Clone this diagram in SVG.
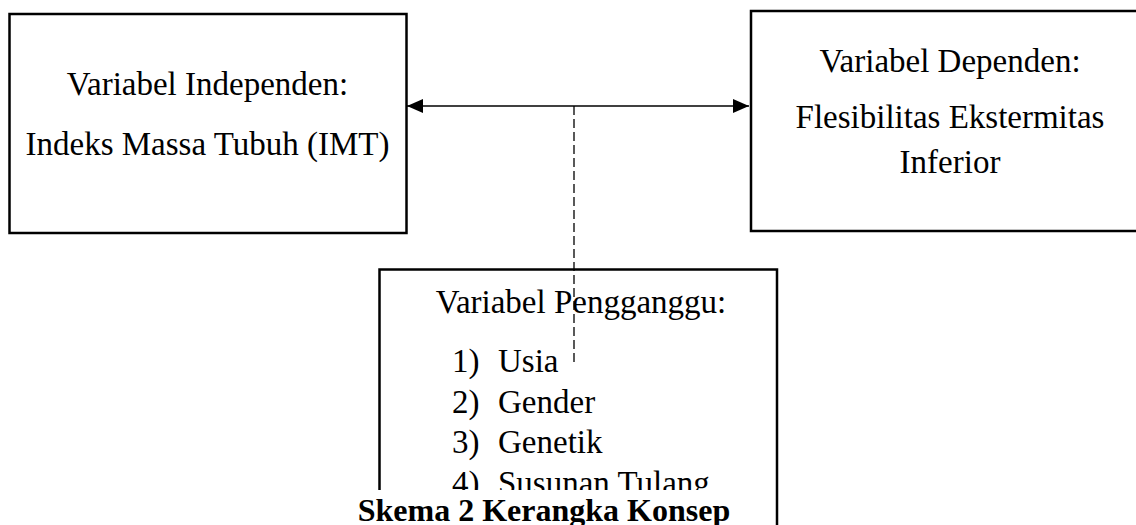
<svg xmlns="http://www.w3.org/2000/svg" width="1136" height="525" viewBox="0 0 1136 525">
  <style>
    .box { fill: #ffffff; stroke: #000000; stroke-width: 2.5; }
    .t { font-family: "Liberation Serif", "Times New Roman", serif; font-size: 33px; fill: #000000; }
    .c { text-anchor: middle; }
    .cap { font-family: "Liberation Serif", "Times New Roman", serif; font-size: 32px; font-weight: bold; fill: #000000; text-anchor: middle; }
    .conn { stroke: #000000; stroke-width: 1.5; fill: none; }
    .dash { stroke: #000000; stroke-width: 1.3; fill: none; stroke-dasharray: 9 4; }
  </style>
  <defs>
    <marker id="ah" viewBox="0 0 16 14" refX="16" refY="7" markerWidth="16" markerHeight="14" markerUnits="userSpaceOnUse" orient="auto-start-reverse">
      <path d="M0,0 L16,7 L0,14 Z" fill="#000000"/>
    </marker>
    <clipPath id="boxclip">
      <rect x="0" y="0" width="1136" height="490"/>
    </clipPath>
  </defs>
  <rect x="0" y="0" width="1136" height="525" fill="#ffffff"/>

  <g id="node-independen">
    <rect class="box" x="9.5" y="14" width="397" height="219"/>
    <text class="t c" x="207.5" y="95">Variabel Independen:</text>
    <text class="t c" x="207.5" y="155">Indeks Massa Tubuh (IMT)</text>
  </g>

  <g id="node-dependen">
    <rect class="box" x="751" y="11" width="400" height="220"/>
    <text class="t c" x="950" y="72">Variabel Dependen:</text>
    <text class="t c" x="950" y="128">Flesibilitas Ekstermitas</text>
    <text class="t c" x="950" y="173">Inferior</text>
  </g>

  <g id="node-pengganggu">
    <rect class="box" x="379.5" y="269.5" width="397.5" height="270"/>
    <text class="t c" x="581" y="313">Variabel Pengganggu:</text>
    <text class="t" x="452" y="372">1)</text><text class="t" x="498" y="372">Usia</text>
    <text class="t" x="452" y="413">2)</text><text class="t" x="498" y="413">Gender</text>
    <text class="t" x="452" y="453">3)</text><text class="t" x="498" y="453">Genetik</text>
    <g clip-path="url(#boxclip)">
      <text class="t" x="452" y="494">4)</text><text class="t" x="498" y="494">Susunan Tulang</text>
    </g>
  </g>

  <g id="connectors">
    <line class="conn" x1="407" y1="106" x2="749" y2="106" marker-start="url(#ah)" marker-end="url(#ah)"/>
    <line class="dash" x1="574" y1="106" x2="574" y2="363"/>
  </g>

  <g id="caption">
    <rect x="240" y="490" width="535" height="35" fill="#ffffff"/>
    <text class="cap" x="544" y="521">Skema 2 Kerangka Konsep</text>
  </g>
</svg>
